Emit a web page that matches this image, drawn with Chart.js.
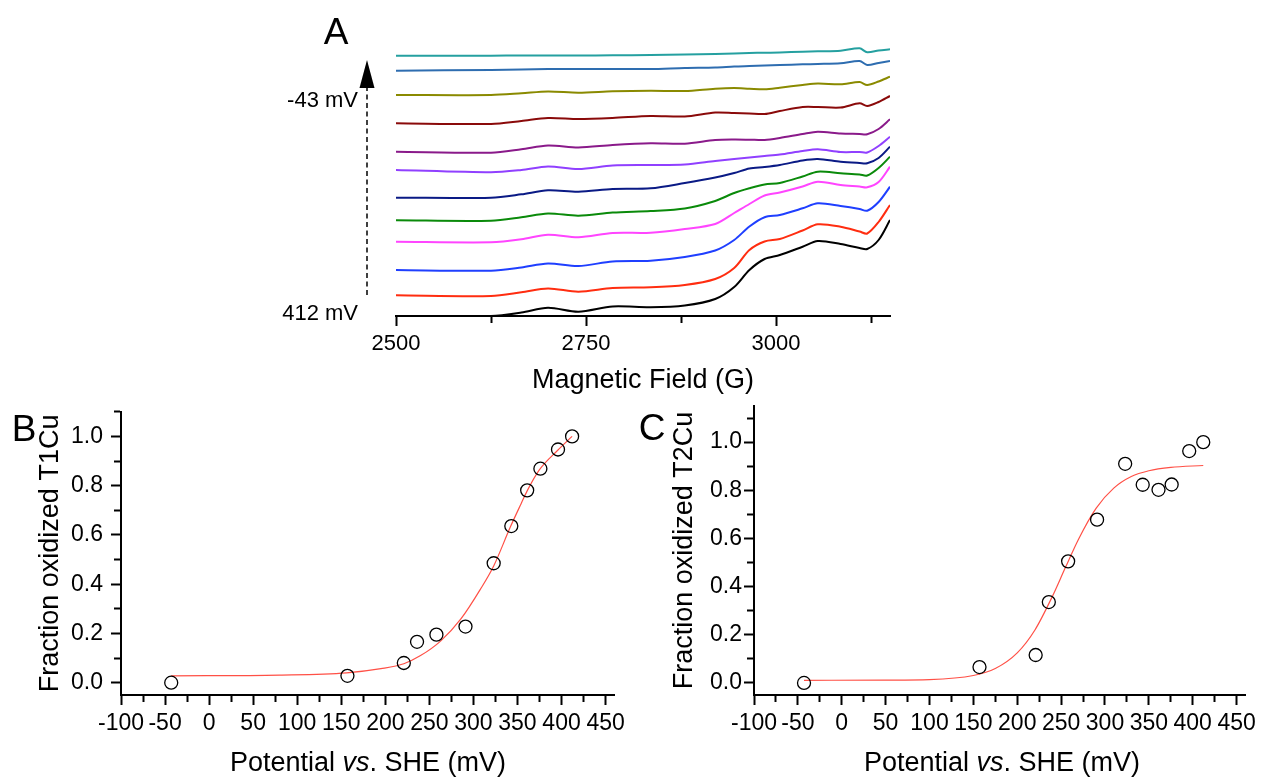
<!DOCTYPE html>
<html><head><meta charset="utf-8">
<script src="https://cdn.jsdelivr.net/npm/chart.js@4.4.1/dist/chart.umd.min.js"></script>
<style>
html,body{margin:0;padding:0;background:#fff;}
#fig{position:relative;width:1261px;height:778px;overflow:hidden;font-family:"Liberation Sans",Arial,sans-serif;color:#000;background:#fff;}
canvas{position:absolute;}
.t{position:absolute;line-height:1;white-space:nowrap;}
.c{transform:translate(-50%,-50%);}
.r{transform:translateY(-50%);text-align:right;}
</style></head><body>
<div id="fig">
<canvas id="cA" width="640" height="400" style="left:270px;top:0"></canvas>
<canvas id="cB" width="630" height="388" style="left:0;top:390px"></canvas>
<canvas id="cC" width="631" height="388" style="left:630px;top:390px"></canvas>
<div class="t c" style="left:336px;top:31px;font-size:37px">A</div>
<div class="t c" style="left:24px;top:428px;font-size:37px">B</div>
<div class="t c" style="left:652px;top:427px;font-size:37px">C</div>
<div class="t r" style="right:903px;top:100px;font-size:22px">-43 mV</div>
<div class="t r" style="right:903px;top:313px;font-size:22px">412 mV</div>
<div class="t c" style="left:368px;top:762px;font-size:27px">Potential <i>vs</i>. SHE (mV)</div>
<div class="t c" style="left:1002px;top:762px;font-size:27px">Potential <i>vs</i>. SHE (mV)</div>
</div>
<script>
// ---------- Panel A: EPR spectra (offset, arbitrary units) ----------
const fieldG = [2500, 2625, 2665, 2700, 2740, 2785, 2835, 2880, 2920, 2945, 2965, 2985, 3005, 3035, 3055, 3085, 3110, 3120, 3135, 3150];
const trace412 = [0, 0, 3.5, 8.3, 4.3, 9.5, 8.7, 10.5, 17, 29, 46, 57, 61, 69.3, 75, 72, 68, 67, 76, 96];
const trace396 = [20.7, 20, 23.7, 27.5, 24.3, 28, 28.7, 31, 37, 48, 66, 74.5, 77, 85.5, 91.7, 89.3, 84.5, 82.5, 94, 111];
const trace376 = [46, 45.3, 48.5, 52.5, 50, 54.5, 55.3, 59, 65.5, 76, 89.5, 98.8, 101, 107.7, 112.7, 110, 107, 105.3, 114, 129.3];
const trace361 = [74.3, 73.7, 76.7, 81.3, 78.7, 83, 83.3, 87, 92, 103, 112, 120.5, 123.5, 129.5, 134.3, 131, 129.5, 128.7, 134, 149.3];
const trace343 = [95.7, 95.3, 98.7, 102.5, 100.3, 103.5, 105, 107.5, 115, 123, 127.7, 131.5, 133, 139.5, 144.3, 142.7, 141.5, 140.5, 148, 159.3];
const trace323 = [118.3, 118.3, 121.7, 125.7, 124.3, 127, 127.7, 133, 138.5, 143, 147.5, 149, 151, 155.5, 157, 154.3, 153, 152.7, 158, 169.3];
const trace291 = [146, 143.7, 146, 149.5, 147, 150.5, 151, 151.5, 155, 157, 158.5, 160, 161.5, 165, 166.7, 164, 164, 163.5, 170, 179.3];
const trace258 = [164.3, 163.3, 166.7, 170.5, 168.5, 171, 172.7, 172.3, 176, 176.5, 176.3, 176, 178, 182, 184.3, 182.5, 182, 181.7, 187, 196.7];
const trace236 = [192.7, 192, 195, 198, 197, 198, 200, 199.5, 203.5, 203, 202.5, 202, 205, 209, 209, 208.5, 212.7, 210, 214, 220];
const trace221 = [221, 221, 222.7, 224.5, 223.3, 224.7, 225.3, 225, 227.3, 228, 227.3, 226.7, 228.3, 231, 232.5, 231.7, 234, 231, 234.5, 239.3];
const trace157 = [245.3, 246, 246.5, 247, 247, 247, 247, 248, 248.5, 249.5, 250, 250.5, 251, 251.7, 252, 252.7, 255, 251, 253, 255];
const traceM43 = [260.3, 260.3, 260.5, 260.5, 260.5, 260.7, 261, 261.5, 262, 262.5, 263, 263.3, 263.5, 264.3, 264.7, 265.3, 267.7, 263.7, 265.5, 266.7];
const traceLabels = ['412 mV','396 mV','376 mV','361 mV','343 mV','323 mV','291 mV','258 mV','236 mV','221 mV','157 mV','-43 mV'];
const traceColors = ['#000000','#ff2d10','#1f3fff','#ff45ff','#0a8a0a','#0a1a85','#9040ff','#8a1a8a','#8a0a0a','#8a8a00','#2e6db0','#25a0a0'];
const traceValues = [trace412, trace396, trace376, trace361, trace343, trace323, trace291, trace258, trace236, trace221, trace157, traceM43];
const fieldTickValues = [2500, 2625, 2750, 2875, 3000, 3125];
const fieldTicksLabelled = [2500, 2750, 3000];

// ---------- Panels B and C: redox titrations ----------
const potentialMV = [-43, 157, 221, 236, 258, 291, 323, 343, 361, 376, 396, 412];
const fracT1Cu = [0, 0.028, 0.08, 0.166, 0.195, 0.228, 0.485, 0.636, 0.781, 0.869, 0.947, 1.0];
const fracT2Cu = [0, 0.066, 0.116, 0.336, 0.505, 0.678, 0.91, 0.823, 0.802, 0.824, 0.963, 1.0];
const fitT1E = [-43, 80, 156, 195, 221, 240, 263, 286, 308, 323, 342, 354, 361, 375, 396, 412];
const fitT1F = [0.028, 0.031, 0.04, 0.057, 0.077, 0.11, 0.17, 0.26, 0.38, 0.474, 0.633, 0.726, 0.779, 0.865, 0.945, 1.0];
const fitT2E = [-43, 50, 100, 150, 175, 200, 220, 240, 255, 270, 290, 310, 330, 350, 375, 412];
const fitT2F = [0.011, 0.012, 0.014, 0.031, 0.06, 0.125, 0.219, 0.359, 0.48, 0.598, 0.726, 0.809, 0.857, 0.881, 0.895, 0.903];
const potentialTickValues = [-100, -75, -50, -25, 0, 25, 50, 75, 100, 125, 150, 175, 200, 225, 250, 275, 300, 325, 350, 375, 400, 425, 450];
const potentialTicksLabelled = [-100, -50, 0, 50, 100, 150, 200, 250, 300, 350, 400, 450];
const fracTickValues = [0, 0.1, 0.2, 0.3, 0.4, 0.5, 0.6, 0.7, 0.8, 0.9, 1.0, 1.1];
const fracTicksLabelled = ['0.0', '0.2', '0.4', '0.6', '0.8', '1.0'];

const FONT = '"Liberation Sans", Arial, sans-serif';
Chart.defaults.font.family = FONT;
Chart.defaults.color = '#000';
const pts = (xs, ys) => xs.map((x, i) => ({x: x, y: ys[i]}));

const arrowPlugin = {
  id: 'potentialArrow',
  afterDraw(chart) {
    const c = chart.ctx;
    c.save();
    c.strokeStyle = '#000'; c.lineWidth = 1.5;
    c.setLineDash([5, 3.5]);
    c.beginPath(); c.moveTo(97, 295); c.lineTo(97, 87); c.stroke();
    c.setLineDash([]);
    c.fillStyle = '#000';
    c.beginPath(); c.moveTo(97, 60); c.lineTo(104.5, 88); c.lineTo(89.5, 88); c.closePath(); c.fill();
    c.restore();
  }
};

new Chart(document.getElementById('cA'), {
  type: 'line',
  data: {
    datasets: traceValues.map((v, i) => ({
      label: traceLabels[i], data: pts(fieldG, v), borderColor: traceColors[i],
      borderWidth: 2, pointRadius: 0, tension: 0.3, fill: false
    }))
  },
  options: {
    responsive: false, animation: false, devicePixelRatio: 1,
    layout: {padding: {left: 126, right: 20, top: 16, bottom: 0}},
    plugins: {legend: {display: false}, tooltip: {enabled: false}},
    scales: {
      x: {
        type: 'linear', min: 2500, max: 3150,
        afterBuildTicks: s => { s.ticks = fieldTickValues.map(v => ({value: v})); },
        afterFit: s => { s.height = 84; },
        border: {display: true, color: '#000', width: 2},
        grid: {drawOnChartArea: false, drawTicks: true, tickLength: 10, tickWidth: 2, tickColor: '#000',
               tickBorderDash: ctx => (ctx.tick && !fieldTicksLabelled.includes(Math.round(ctx.tick.value))) ? [6, 100] : []},
        ticks: {autoSkip: false, maxRotation: 0, minRotation: 0, padding: 5, font: {size: 22},
                callback: v => fieldTicksLabelled.includes(Math.round(v)) ? String(Math.round(v)) : ''},
        title: {display: true, text: 'Magnetic Field (G)', font: {size: 27}, padding: {top: 0, bottom: 3}}
      },
      y: {display: false, min: 0, max: 300}
    }
  },
  plugins: [arrowPlugin]
});

function fracLabel(v) {
  const s = (Math.round(v * 10) / 10).toFixed(1);
  return fracTicksLabelled.includes(s) ? s : '';
}

function fracChart(id, E, F, fitE, fitF, yMax, yTitle, leftW, titlePad, labelPad, padRight) {
  new Chart(document.getElementById(id), {
    type: 'scatter',
    data: {
      datasets: [
        {label: 'fit', data: pts(fitE, fitF), showLine: true, borderColor: 'rgb(255,80,70)', borderWidth: 1.2,
         pointRadius: 0, cubicInterpolationMode: 'monotone', order: 2},
        {label: 'data', data: pts(E, F), showLine: false, pointStyle: 'circle', pointRadius: 6.5,
         pointBorderColor: '#000', pointBackgroundColor: 'rgba(0,0,0,0)', pointBorderWidth: 1.3, order: 1}
      ]
    },
    options: {
      responsive: false, animation: false, devicePixelRatio: 1,
      layout: {padding: {left: 0, right: padRight, top: 16, bottom: 0}},
      plugins: {legend: {display: false}, tooltip: {enabled: false}},
      scales: {
        x: {
          type: 'linear', min: -100, max: 460,
          afterBuildTicks: s => { s.ticks = potentialTickValues.map(v => ({value: v})); },
          afterFit: s => { s.height = 83; },
          border: {display: true, color: '#000', width: 2},
          grid: {drawOnChartArea: false, tickLength: 10, tickWidth: 2, tickColor: '#000',
                 tickBorderDash: ctx => (ctx.tick && !potentialTicksLabelled.includes(Math.round(ctx.tick.value))) ? [6, 100] : []},
          ticks: {autoSkip: false, maxRotation: 0, minRotation: 0, padding: 5, font: {size: 23},
                  callback: v => potentialTicksLabelled.includes(Math.round(v)) ? String(Math.round(v)) : ''}
        },
        y: {
          type: 'linear', min: -0.05, max: yMax,
          afterBuildTicks: s => { s.ticks = fracTickValues.map(v => ({value: v})); },
          afterFit: s => { s.width = leftW; },
          border: {display: true, color: '#000', width: 2},
          grid: {drawOnChartArea: false, tickLength: 10, tickWidth: 2, tickColor: '#000',
                 tickBorderDash: ctx => (ctx.tick && fracLabel(ctx.tick.value) === '') ? [0, 3, 6, 100] : []},
          ticks: {autoSkip: false, padding: labelPad, font: {size: 23}, callback: v => fracLabel(v)},
          title: {display: true, text: yTitle, font: {size: 27}, padding: {top: titlePad, bottom: 0}}
        }
      }
    }
  });
}

fracChart('cB', potentialMV, fracT1Cu, fitT1E, fitT1F, 1.1, 'Fraction oxidized T1Cu', 121, 34, 8, 13);
fracChart('cC', potentialMV, fracT2Cu, fitT2E, fitT2F, 1.15, 'Fraction oxidized T2Cu', 124, 38, 2, 12);
</script>
</body></html>
